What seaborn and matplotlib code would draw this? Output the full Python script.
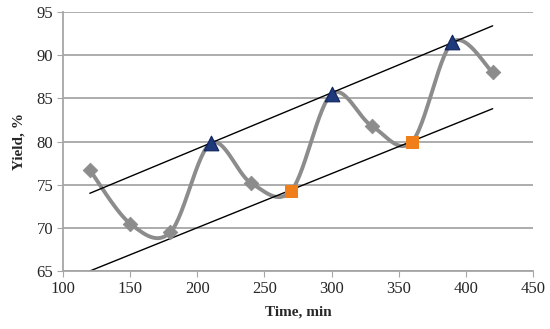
import numpy as np
import pandas as pd
import matplotlib
matplotlib.use("Agg")
import matplotlib.pyplot as plt
import seaborn as sns

# data
time_min = [120, 150, 180, 210, 240, 270, 300, 330, 360, 390, 420]
yield_pct = [76.7, 70.5, 69.5, 79.8, 75.2, 74.3, 85.5, 81.8, 80.0, 91.5, 88.0]
peak_idx = [3, 6, 9]      # triangles
trough_idx = [5, 8]       # squares
upper_x = [120, 420]
upper_y = [74.0, 93.4]
lower_x = [120, 420]
lower_y = [65.0, 83.8]

sns.set_style("white")
plt.rcParams['font.family'] = ['Liberation Serif', 'DejaVu Serif']


def smooth(x, y, n=30):
    # Catmull-Rom style smoothing like Excel's "smoothed line"
    x = np.asarray(x, float)
    y = np.asarray(y, float)
    px = np.concatenate([[x[0]], x, [x[-1]]])
    py = np.concatenate([[y[0]], y, [y[-1]]])
    xs, ys = [], []
    t = np.linspace(0, 1, n)
    for i in range(1, len(px) - 2):
        p0, p1, p2, p3 = (np.array([px[j], py[j]]) for j in range(i - 1, i + 3))
        c1 = p1 + (p2 - p0) / 6
        c2 = p2 - (p3 - p1) / 6
        pts = (((1 - t) ** 3)[:, None] * p1 + (3 * (1 - t) ** 2 * t)[:, None] * c1
               + (3 * (1 - t) * t ** 2)[:, None] * c2 + (t ** 3)[:, None] * p2)
        xs.extend(pts[:, 0])
        ys.extend(pts[:, 1])
    return np.array(xs), np.array(ys)


sx, sy = smooth(time_min, yield_pct)
curve = pd.DataFrame({'t': sx, 'y': sy})
df = pd.DataFrame({'t': time_min, 'y': yield_pct})
normal = df.drop(index=peak_idx + trough_idx)
peaks = df.loc[peak_idx]
troughs = df.loc[trough_idx]

fig = plt.figure(figsize=(5.5, 3.29), dpi=100)
ax = fig.add_axes([0.1145, 0.1763, 0.8545, 0.7872])

ax.grid(axis='y', color='#a6a6a6', linewidth=1.3)
ax.set_axisbelow(True)

sns.lineplot(data=curve, x='t', y='y', ax=ax, color='#8c8c8c', linewidth=2.8,
             sort=False, estimator=None)
sns.lineplot(x=upper_x, y=upper_y, ax=ax, color='black', linewidth=1.0)
sns.lineplot(x=lower_x, y=lower_y, ax=ax, color='black', linewidth=1.0)
sns.scatterplot(data=normal, x='t', y='y', ax=ax, marker='D', s=55,
                color='#8c8c8c', edgecolor='#8c8c8c', zorder=4)
sns.scatterplot(data=peaks, x='t', y='y', ax=ax, marker='^', s=110,
                color='#1f3a7a', edgecolor='#0f2460', zorder=5)
sns.scatterplot(data=troughs, x='t', y='y', ax=ax, marker='s', s=80,
                color='#f07f1a', edgecolor='#f07f1a', zorder=5)

ax.set_xlim(100, 450)
ax.set_ylim(65, 95)
ax.set_xticks(range(100, 451, 50))
ax.set_yticks(range(65, 96, 5))
ax.tick_params(axis='both', which='major', direction='out', length=4,
               color='#a6a6a6', labelsize=12, pad=3, left=True, bottom=True)

for s in ['top', 'right']:
    ax.spines[s].set_visible(False)
for s in ['left', 'bottom']:
    ax.spines[s].set_color('#a6a6a6')
    ax.spines[s].set_linewidth(1.3)

ax.set_xlabel('Time, min', fontsize=11, fontweight='bold', labelpad=6)
ax.set_ylabel('Yield, %', fontsize=11, fontweight='bold', labelpad=8)

fig.savefig('out.png', dpi=100)
